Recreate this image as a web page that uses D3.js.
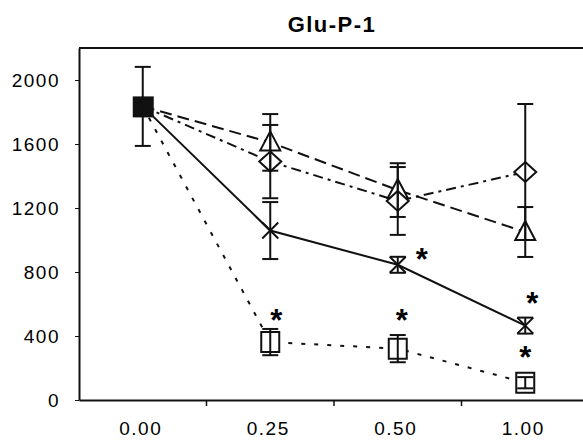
<!DOCTYPE html>
<html>
<head>
    <meta charset="UTF-8">
    <script src="https://d3js.org/d3.v7.min.js"></script>
    <style>
        body { margin: 0; background: #fff; font-family: "Liberation Sans", Arial, sans-serif; }
        .axis text { font-size: 19px; fill: #000; letter-spacing: 1.5px; }
        .axis path, .axis line { stroke: #111; }
    </style>
</head>
<body>
    <div id="chart"></div>
    <script type="text/javascript">
        // dose categories on the x axis
        const doses = ["0.00", "0.25", "0.50", "1.00"];
        const yTicks = [0, 400, 800, 1200, 1600, 2000];

        // control point (shared by all series at 0.00)
        const controlMean = 1835;
        const controlErr = 247;

        // treated series, values for 0.25, 0.50, 1.00
        const treatedDoses = ["0.25", "0.50", "1.00"];
        const crossMean = [1059, 845, 465];
        const crossErr = [178, 50, 50];
        const triMean = [1610, 1312, 1050];
        const triErr = [177, 168, 156];
        const diaMean = [1490, 1244, 1425];
        const diaErr = [229, 212, 425];
        const sqMean = [362, 321, 108];
        const sqErr = [82, 85, 35];

        // significance asterisks
        const starDose = ["0.25", "0.50", "0.50", "1.00", "1.00"];
        const starValue = [544, 544, 925, 650, 312];

        function drawChart() {
            const W = 583, H = 441;
            const left = 79, right = 589, top = 48, bottom = 400;

            const svg = d3.select("#chart").append("svg")
                .attr("width", W).attr("height", H);

            const x = d3.scaleBand().domain(doses).range([left, right]).padding(0);
            const y = d3.scaleLinear().domain([0, 2200]).range([bottom, top]);
            const cx = d => x(d) + x.bandwidth() / 2;

            // title
            svg.append("text")
                .attr("x", 332).attr("y", 32)
                .attr("text-anchor", "middle")
                .style("font-size", "22px").style("font-weight", "bold")
                .style("letter-spacing", "1.5px")
                .text("Glu-P-1");

            // frame top line
            svg.append("line")
                .attr("x1", left).attr("x2", right)
                .attr("y1", y(2200)).attr("y2", y(2200))
                .attr("stroke", "#111").attr("stroke-width", 2);

            // y axis
            const yAxis = svg.append("g").attr("class", "axis")
                .attr("transform", `translate(${left},0)`)
                .call(d3.axisLeft(y).tickValues(yTicks).tickFormat(d3.format("d"))
                    .tickSize(4).tickPadding(15).tickSizeOuter(0));
            yAxis.select(".domain").attr("stroke-width", 2);

            // x axis (labels at centers, ticks at band boundaries)
            const xAxis = svg.append("g").attr("class", "axis")
                .attr("transform", `translate(0,${bottom})`)
                .call(d3.axisBottom(x).tickSize(0).tickPadding(22));
            xAxis.select(".domain").attr("stroke-width", 2);
            xAxis.selectAll(".tick text").attr("dx", "-2px");
            svg.selectAll(".xbound")
                .data(doses.slice(0, 3))
                .join("line")
                .attr("x1", d => x(d) + x.bandwidth()).attr("x2", d => x(d) + x.bandwidth())
                .attr("y1", bottom).attr("y2", bottom + 6)
                .attr("stroke", "#111").attr("stroke-width", 1.5);

            const series = [
                { mean: crossMean, err: crossErr, dash: null, shape: "cross" },
                { mean: triMean, err: triErr, dash: "12,6", shape: "tri" },
                { mean: diaMean, err: diaErr, dash: "10,5,3,5", shape: "dia" },
                { mean: sqMean, err: sqErr, dash: "4,9", shape: "sq" }
            ];

            const line = d3.line().x(d => cx(d.dose)).y(d => y(d.mean));

            series.forEach(s => {
                const pts = [{ dose: doses[0], mean: controlMean }]
                    .concat(treatedDoses.map((d, i) => ({ dose: d, mean: s.mean[i] })));
                svg.append("path")
                    .datum(pts)
                    .attr("fill", "none")
                    .attr("stroke", "#111")
                    .attr("stroke-width", 2)
                    .attr("stroke-dasharray", s.dash)
                    .attr("d", line);
            });

            const shapes = {
                tri: "M0,-11L10,8L-10,8Z",
                dia: "M0,-10L11,0L0,10L-11,0Z",
                sq: "M-9,-10L9,-10L9,10L-9,10Z",
                cross: "M-8,-8L8,8M8,-8L-8,8"
            };

            // markers
            series.forEach(s => {
                svg.selectAll(null)
                    .data(treatedDoses.map((d, i) => ({ dose: d, mean: s.mean[i] })))
                    .join("path")
                    .attr("transform", d => `translate(${cx(d.dose)},${y(d.mean)})`)
                    .attr("d", shapes[s.shape])
                    .attr("fill", s.shape === "cross" ? "none" : "#fff")
                    .attr("stroke", "#111")
                    .attr("stroke-width", 2);
            });

            // control filled square
            svg.append("rect")
                .attr("x", cx(doses[0]) - 10).attr("y", y(controlMean) - 10)
                .attr("width", 21).attr("height", 21)
                .attr("fill", "#111");

            // error bars
            const errs = [{ dose: doses[0], mean: controlMean, err: controlErr }];
            series.forEach(s => treatedDoses.forEach((d, i) =>
                errs.push({ dose: d, mean: s.mean[i], err: s.err[i] })));
            const eb = svg.append("g").attr("stroke", "#111").attr("stroke-width", 2);
            eb.selectAll(".v").data(errs).join("line")
                .attr("x1", d => cx(d.dose)).attr("x2", d => cx(d.dose))
                .attr("y1", d => y(d.mean + d.err)).attr("y2", d => y(d.mean - d.err));
            [1, -1].forEach(sign => {
                eb.selectAll(null).data(errs).join("line")
                    .attr("x1", d => cx(d.dose) - 8).attr("x2", d => cx(d.dose) + 8)
                    .attr("y1", d => y(d.mean + sign * d.err)).attr("y2", d => y(d.mean + sign * d.err));
            });

            // asterisks
            const starShift = [6, 4, 24, 7, 0];
            svg.selectAll(".star")
                .data(starDose.map((d, i) => ({ dose: d, v: starValue[i], dx: starShift[i] })))
                .join("text")
                .attr("x", d => cx(d.dose) + d.dx)
                .attr("y", d => y(d.v) + 18)
                .attr("text-anchor", "middle")
                .style("font-size", "31px").style("font-weight", "bold")
                .text("*");
        }

        drawChart();
    </script>
</body>
</html>
